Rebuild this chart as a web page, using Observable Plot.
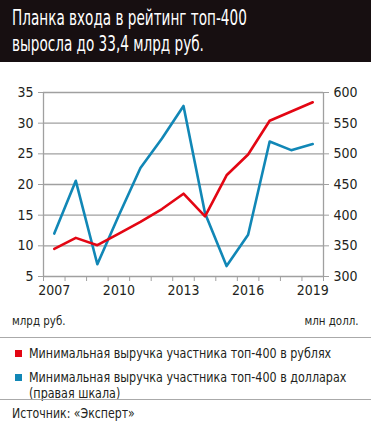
<!DOCTYPE html>
<html><head><meta charset="utf-8">
<script src="https://cdn.jsdelivr.net/npm/d3@7"></script>
<script src="https://cdn.jsdelivr.net/npm/@observablehq/plot@0.6"></script>
<style>
  html,body{margin:0;padding:0;background:#fff;}
  body{width:371px;height:425px;overflow:hidden;font-family:"DejaVu Sans Condensed","DejaVu Sans",sans-serif;font-stretch:condensed;color:#231f20;}
  #wrap{position:relative;width:371px;height:425px;}
  #title{position:absolute;left:0;top:0;width:371px;height:62px;background:#170f11;}
  .tl{position:absolute;left:12px;color:#fff;font-size:21px;white-space:nowrap;transform:scaleX(0.72);transform-origin:left center;}
  #chart{position:absolute;left:0;top:70px;}
  .unit{position:absolute;top:313px;font-size:13px;white-space:nowrap;transform:scaleX(0.88);}
  .sep{position:absolute;left:0;width:371px;height:0;border-top:1.5px solid #aaa;}
  .leg{position:absolute;left:29px;font-size:14px;line-height:16px;white-space:nowrap;transform:scaleX(0.885);transform-origin:left center;}
  .sw{position:absolute;left:15px;width:7px;height:7px;}
  #src{position:absolute;left:12px;top:405px;font-size:14px;white-space:nowrap;transform:scaleX(0.87);transform-origin:left center;}
</style></head>
<body><div id="wrap">
<div id="title">
  <div class="tl" style="top:6px">Планка входа в рейтинг топ-400</div>
  <div class="tl" style="top:32px">выросла до 33,4 млрд руб.</div>
</div>
<div id="chart"></div>
<div class="unit" style="left:12px;transform-origin:left center">млрд руб.</div>
<div class="unit" style="right:12px;transform-origin:right center">млн долл.</div>
<div class="sep" style="top:337px"></div>
<div class="sw" style="top:350px;background:#e30613"></div>
<div class="leg" style="top:345px">Минимальная выручка участника топ-400 в рублях</div>
<div class="sw" style="top:374px;background:#1187b6"></div>
<div class="leg" style="top:369px">Минимальная выручка участника топ-400 в долларах<br>(правая шкала)</div>
<div class="sep" style="top:399px"></div>
<div id="src">Источник: «Эксперт»</div>
</div>
<script>
const years = [2007,2008,2009,2010,2011,2012,2013,2014,2015,2016,2017,2018,2019];
const rubles = [9.5,11.3,10.1,12.0,13.9,16.0,18.5,14.8,21.5,24.9,30.4,31.9,33.4];
const dollars = [370,456,320,400,477,525,578,403,317,368,520,506,516];
const leftTicks = [5,10,15,20,25,30,35];
const yearLabels = [2007,2010,2013,2016,2019];
const RED = "#e30613", BLUE = "#1187b6", GRID = "#a0a0a0";

const toLeft = d => 5 + (d - 300) / 10;
const rubData = years.map((y,i) => ({year:y, v:rubles[i]}));
const usdData = years.map((y,i) => ({year:y, v:toLeft(dollars[i])}));
const boundaries = d3.range(2006.5, 2020, 1);

const chart = Plot.plot({
  width: 371, height: 230,
  marginLeft: 43, marginRight: 48, marginTop: 22, marginBottom: 24,
  style: {fontFamily: '"DejaVu Sans Condensed","DejaVu Sans",sans-serif', fontStretch: "condensed", fontSize: "14px", color: "#231f20", background: "#fff"},
  x: {domain: [2006.5, 2019.5]},
  y: {domain: [5, 35]},
  marks: [
    Plot.ruleY(leftTicks, {stroke: GRID, strokeWidth: 1.3}),
    Plot.ruleX([2006.5, 2019.5], {stroke: GRID, strokeWidth: 1.3}),
    Plot.axisY({anchor: "left", ticks: leftTicks, tickSize: 5, tickPadding: 5, stroke: GRID, label: null, fontSize: 14}),
    Plot.axisY({anchor: "right", ticks: leftTicks, tickSize: 5, tickPadding: 5, stroke: GRID, label: null, fontSize: 14, tickFormat: d => 300 + (d - 5) * 10}),
    Plot.axisX({ticks: boundaries, tickSize: 5, tickFormat: () => "", stroke: GRID, label: null}),
    Plot.axisX({ticks: yearLabels, tickSize: 0, tickPadding: 9, tickFormat: d => String(d), label: null, fontSize: 14}),
    Plot.line(usdData, {x: "year", y: "v", stroke: BLUE, strokeWidth: 2.6}),
    Plot.line(rubData, {x: "year", y: "v", stroke: RED, strokeWidth: 2.6})
  ]
});
document.getElementById("chart").appendChild(chart);
</script>
</body></html>
